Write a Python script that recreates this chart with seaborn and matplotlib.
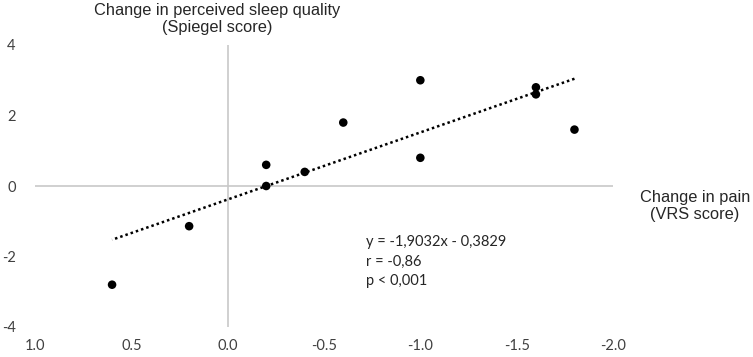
#!/usr/bin/env python3

import numpy as np
import pandas as pd
import matplotlib
matplotlib.use("Agg")
import matplotlib.pyplot as plt
import seaborn as sns

# Data
pain_change = [-0.2, -0.2, -0.4, -0.6, -1.0, -1.0, -1.6, -1.6, -1.8, 0.2, 0.6]
sleep_change = [0.6, 0.0, 0.4, 1.8, 3.0, 0.8, 2.8, 2.6, 1.6, -1.14, -2.8]

# Trend line reported on the chart
slope = -1.9032
intercept = -0.3829
stats_text = "y = -1,9032x - 0,3829\nr = -0,86\np < 0,001"

x_ticks = [1.0, 0.5, 0.0, -0.5, -1.0, -1.5, -2.0]
y_ticks = [-4, -2, 0, 2, 4]

sns.set_theme(style="white")
plt.rcParams['font.family'] = ['Lato', 'DejaVu Sans']
plt.rcParams['axes.unicode_minus'] = False

df = pd.DataFrame({"pain": pain_change, "sleep": sleep_change})
trend_x = np.array([df["pain"].max(), df["pain"].min()])
trend = pd.DataFrame({"pain": trend_x, "sleep": slope * trend_x + intercept})

fig = plt.figure(figsize=(7.53, 3.57), dpi=100)
ax = fig.add_axes([35 / 753, 1 - 327 / 357, 578 / 753, 282 / 357])

# Axis lines through the origin
ax.axhline(0, color="#c8c8c8", lw=1.2, zorder=1)
ax.axvline(0, color="#c8c8c8", lw=1.2, zorder=1)

sns.lineplot(data=trend, x="pain", y="sleep", ax=ax, color="black",
             lw=1.8, linestyle=(0, (1, 1.2)), zorder=2)
sns.scatterplot(data=df, x="pain", y="sleep", ax=ax, color="black",
                s=38, edgecolor="none", zorder=3)

ax.set_xlim(1.0, -2.0)
ax.set_ylim(-4, 4)
ax.set_xticks(x_ticks)
ax.set_xticklabels([f"{v:.1f}" for v in x_ticks])
ax.set_yticks(y_ticks)
ax.set_yticklabels([str(v) for v in y_ticks])
ax.tick_params(axis="x", length=0, pad=9, labelsize=10.5, colors="#404040")
ax.tick_params(axis="y", length=0, pad=14, labelsize=10.5, colors="#404040")
ax.set_xlabel("")
ax.set_ylabel("")
for s in ax.spines.values():
    s.set_visible(False)
ax.grid(False)

# Axis titles
fig.text(217 / 753, 1 - 19 / 357, "Change in perceived sleep quality\n(Spiegel score)",
         ha="center", va="center", fontsize=11.8, family="Liberation Sans",
         color="#262626", linespacing=1.2)
fig.text(695 / 753, 1 - 206 / 357, "Change in pain\n(VRS score)",
         ha="center", va="center", fontsize=11.8, family="Liberation Sans",
         color="#262626", linespacing=1.2)

ax.text(-0.72, -2.15, stats_text, ha="left", va="center", fontsize=10.5,
        color="#262626", linespacing=1.5)

fig.savefig("out.png", dpi=100)
